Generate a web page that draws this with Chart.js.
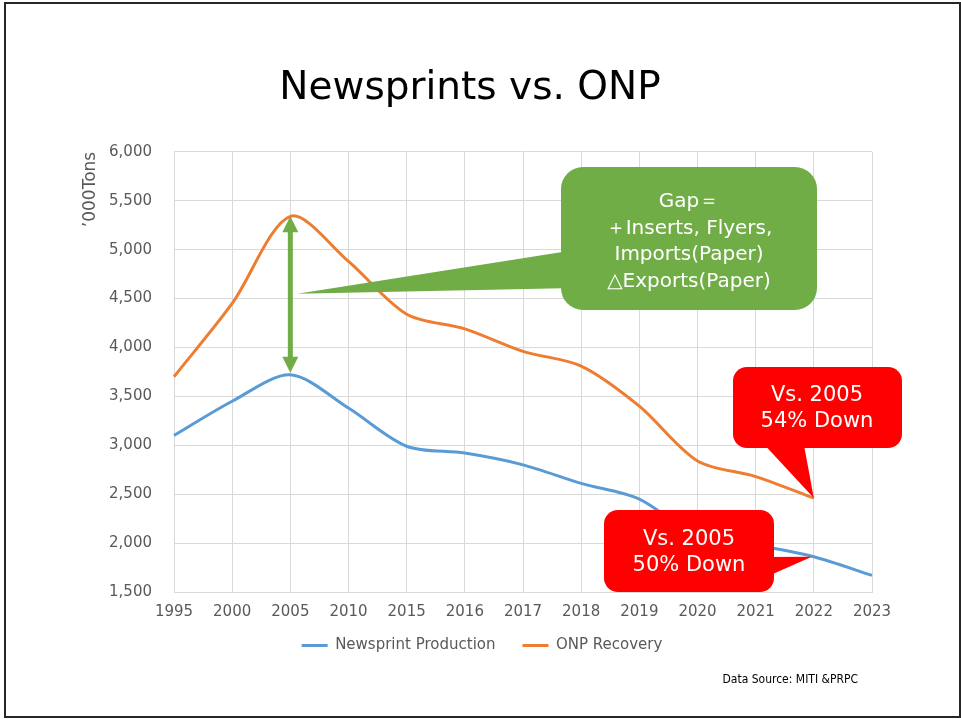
<!DOCTYPE html>
<html>
<head>
<meta charset="utf-8">
<script src="https://cdn.jsdelivr.net/npm/chart.js@4.4.0/dist/chart.umd.min.js"></script>
<style>
  html, body { margin: 0; padding: 0; background: #fff; }
  #wrap { width: 961px; height: 719px; }
</style>
</head>
<body>
<div id="wrap"><canvas id="chart" width="961" height="719"></canvas></div>
<script>
// Data ('000 tons)
const years = ['1995', '2000', '2005', '2010', '2015', '2016', '2017', '2018', '2019', '2020', '2021', '2022', '2023'];
const newsprintProduction = [3100, 3450, 3720, 3380, 2990, 2920, 2800, 2610, 2450, 2070, 1980, 1860, 1670];
const onpRecovery = [3700, 4450, 5340, 4880, 4340, 4190, 3960, 3810, 3400, 2840, 2680, 2460, null];
const yTicks = [1500, 2000, 2500, 3000, 3500, 4000, 4500, 5000, 5500, 6000];

const gapLines = ['Gap＝', '＋Inserts, Flyers,', 'Imports(Paper)', '△Exports(Paper)'];
const onpNote = ['Vs. 2005', '54% Down'];
const npNote = ['Vs. 2005', '50% Down'];
const sourceText = 'Data Source: MITI &PRPC';

const FONT = "'DejaVu Sans', Verdana, sans-serif";
const GREEN = '#70ad47';
const RED = '#ff0000';

function roundRect(ctx, x, y, w, h, r) {
    ctx.beginPath();
    ctx.moveTo(x + r, y);
    ctx.arcTo(x + w, y, x + w, y + h, r);
    ctx.arcTo(x + w, y + h, x, y + h, r);
    ctx.arcTo(x, y + h, x, y, r);
    ctx.arcTo(x, y, x + w, y, r);
    ctx.closePath();
    ctx.fill();
}

function drawLines(ctx, lines, cx, y0, step, size) {
    ctx.fillStyle = '#fff';
    ctx.font = size + 'px ' + FONT;
    ctx.textAlign = 'center';
    ctx.textBaseline = 'middle';
    lines.forEach((t, i) => ctx.fillText(t, cx, y0 + i * step));
}

// callouts + gap arrow, drawn above the lines
const calloutPlugin = {
    id: 'callouts',
    afterDatasetsDraw(chart) {
        const { ctx, scales: { x, y } } = chart;
        const i05 = years.indexOf('2005');
        const i22 = years.indexOf('2022');
        ctx.save();

        // double-headed gap arrow at 2005
        const ax = x.getPixelForValue(i05);
        const aTop = y.getPixelForValue(onpRecovery[i05]);
        const aBot = y.getPixelForValue(newsprintProduction[i05]) - 2;
        ctx.fillStyle = GREEN;
        ctx.fillRect(ax - 2.5, aTop + 14, 5, aBot - aTop - 28);
        ctx.beginPath();
        ctx.moveTo(ax, aTop); ctx.lineTo(ax - 8, aTop + 16); ctx.lineTo(ax + 8, aTop + 16);
        ctx.closePath(); ctx.fill();
        ctx.beginPath();
        ctx.moveTo(ax, aBot); ctx.lineTo(ax - 8, aBot - 16); ctx.lineTo(ax + 8, aBot - 16);
        ctx.closePath(); ctx.fill();

        // green "Gap" callout
        const gx = ax + 7, gy = y.getPixelForValue(4550);
        ctx.beginPath();
        ctx.moveTo(gx, gy); ctx.lineTo(575, 250); ctx.lineTo(575, 288);
        ctx.closePath(); ctx.fill();
        roundRect(ctx, 561, 167, 256, 143, 22);
        drawLines(ctx, gapLines, 689, 202, 26.5, 20);

        // red callout for ONP 2022
        const ox = x.getPixelForValue(i22), oy = y.getPixelForValue(onpRecovery[i22]);
        ctx.fillStyle = RED;
        ctx.beginPath();
        ctx.moveTo(760, 440); ctx.lineTo(803, 440); ctx.lineTo(ox, oy);
        ctx.closePath(); ctx.fill();
        roundRect(ctx, 733, 367, 169, 81, 14);
        drawLines(ctx, onpNote, 817, 396, 25.5, 21);

        // red callout for Newsprint 2022
        const nx = x.getPixelForValue(i22), ny = y.getPixelForValue(newsprintProduction[i22]);
        ctx.fillStyle = RED;
        ctx.beginPath();
        ctx.moveTo(766, 557); ctx.lineTo(nx - 2, ny); ctx.lineTo(766, 577);
        ctx.closePath(); ctx.fill();
        roundRect(ctx, 604, 510, 170, 82, 14);
        drawLines(ctx, npNote, 689, 540, 25.5, 21);

        ctx.restore();
    }
};

// white page, frame and source note; nudge title/legend to match the slide
const pagePlugin = {
    id: 'page',
    afterLayout(chart) {
        const t = chart.titleBlock, lg = chart.legend;
        if (t) { t.left -= 6; t.right -= 6; }
        if (lg) { lg.top -= 17; lg.bottom -= 17; lg.left += 6; lg.right += 6; }
    },
    beforeDraw(chart) {
        const ctx = chart.ctx;
        ctx.save();
        ctx.fillStyle = '#fff';
        ctx.fillRect(0, 0, chart.width, chart.height);
        ctx.restore();
    },
    afterDraw(chart) {
        const ctx = chart.ctx;
        ctx.save();
        ctx.strokeStyle = '#262626';
        ctx.lineWidth = 2;
        ctx.strokeRect(5, 3, 955, 714);
        ctx.fillStyle = '#000';
        ctx.font = "12px 'DejaVu Sans Condensed', 'DejaVu Sans', sans-serif";
        ctx.textAlign = 'right';
        ctx.textBaseline = 'middle';
        ctx.fillText(sourceText, 858, 680);
        ctx.restore();
    }
};

Chart.defaults.font.family = FONT;
Chart.defaults.color = '#595959';

new Chart(document.getElementById('chart'), {
    type: 'line',
    data: {
        labels: years,
        datasets: [{
            label: 'Newsprint Production',
            data: newsprintProduction,
            borderColor: '#5b9bd5',
            backgroundColor: '#5b9bd5',
            borderWidth: 3,
            pointRadius: 0,
            tension: 0.3
        }, {
            label: 'ONP Recovery',
            data: onpRecovery,
            borderColor: '#ed7d31',
            backgroundColor: '#ed7d31',
            borderWidth: 3,
            pointRadius: 0,
            tension: 0.3
        }]
    },
    options: {
        responsive: false,
        animation: false,
        layout: { padding: { left: 80, right: 89, top: 0, bottom: 39 } },
        plugins: {
            title: {
                display: true,
                text: 'Newsprints vs. ONP',
                color: '#000',
                font: { size: 39, weight: 'normal' },
                padding: { top: 65, bottom: 40 }
            },
            legend: {
                position: 'bottom',
                labels: {
                    usePointStyle: true,
                    pointStyle: 'line',
                    pointStyleWidth: 26,
                    padding: 27,
                    color: '#595959',
                    font: { size: 15 }
                }
            },
            tooltip: { enabled: false }
        },
        scales: {
            x: {
                grid: { color: '#d9d9d9', drawTicks: false },
                border: { color: '#d9d9d9' },
                ticks: { padding: 11, maxRotation: 0, autoSkip: false, font: { size: 15 } },
                afterFit: (scale) => { scale.height = 36; }
            },
            y: {
                min: yTicks[0],
                max: yTicks[yTicks.length - 1],
                afterBuildTicks: (scale) => { scale.ticks = yTicks.map(v => ({ value: v })); },
                grid: { color: '#d9d9d9', drawTicks: false },
                border: { color: '#d9d9d9' },
                ticks: {
                    padding: 22,
                    font: { size: 15 },
                    callback: (v) => v.toLocaleString('en-US')
                },
                title: {
                    display: true,
                    text: '’000Tons',
                    align: 'end',
                    color: '#595959',
                    font: { size: 17 },
                    padding: 0
                },
                afterFit: (scale) => { scale.width = 94; }
            }
        }
    },
    plugins: [pagePlugin, calloutPlugin]
});
</script>
</body>
</html>
